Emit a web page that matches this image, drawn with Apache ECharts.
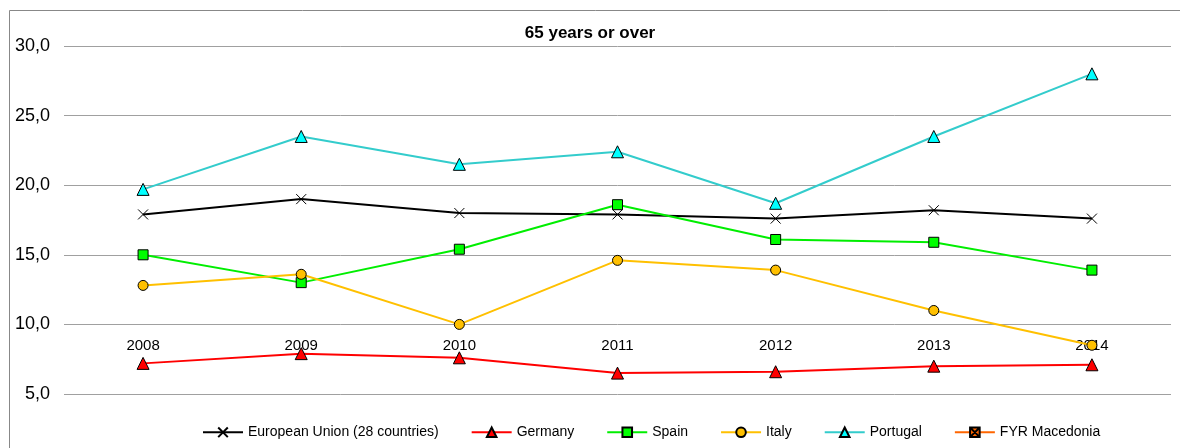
<!DOCTYPE html>
<html><head><meta charset="utf-8">
<script src="https://cdn.jsdelivr.net/npm/echarts@6/dist/echarts.min.js"></script>
<style>html,body{margin:0;padding:0;background:#fff}#c{width:1180px;height:448px}</style>
</head><body><div id="c"></div>
<script>
const title = '65 years or over';
const years = ['2008','2009','2010','2011','2012','2013','2014'];
const seriesNames = ['European Union (28 countries)','Germany','Spain','Italy','Portugal','FYR Macedonia'];
const euValues = [17.9, 19.0, 18.0, 17.9, 17.6, 18.2, 17.6];
const germanyValues = [7.2, 7.9, 7.6, 6.5, 6.6, 7.0, 7.1];
const spainValues = [15.0, 13.0, 15.4, 18.6, 16.1, 15.9, 13.9];
const italyValues = [12.8, 13.6, 10.0, 14.6, 13.9, 11.0, 8.5];
const portugalValues = [19.7, 23.5, 21.5, 22.4, 18.7, 23.5, 28.0];
const macedoniaValues = [null, null, null, null, null, null, null];

const font = 'Liberation Sans';
const xPath = 'path://M0,0L10,10M10,0L0,10';
const xSqPath = 'path://M0,0L10,0L10,10L0,10Z M0,0L10,10M10,0L0,10';

function mk(name, data, lineColor, fill, symbol, size, border) {
  return {
    name, type: 'line', data,
    symbol, symbolSize: size,
    lineStyle: {color: lineColor, width: 2},
    itemStyle: {color: fill, borderColor: border || '#000', borderWidth: 1},
    emphasis: {disabled: true},
    animation: false, z: 3
  };
}

const chart = echarts.init(document.getElementById('c'));
chart.setOption({
  animation: false,
  backgroundColor: '#fff',
  textStyle: {fontFamily: font},
  title: {text: title, left: 'center', top: 20, textStyle: {fontFamily: font, fontSize: 17, fontWeight: 'bold', color: '#000'}},
  graphic: [{type: 'rect', shape: {x: 9.5, y: 10.5, width: 1200, height: 500}, style: {fill: 'none', stroke: '#888', lineWidth: 1}, silent: true, z: -1}],
  grid: {left: 64, right: 9, top: 46, bottom: 54},
  legend: {
    left: 197, top: 420, itemWidth: 40, itemHeight: 12, itemGap: 32,
    textStyle: {fontFamily: font, fontSize: 14, color: '#000'},
    data: seriesNames
  },
  xAxis: {
    type: 'category', data: years, boundaryGap: true, offset: -63,
    axisLine: {show: false}, axisTick: {show: false},
    axisLabel: {fontFamily: font, fontSize: 15, color: '#000', margin: 7}
  },
  yAxis: {
    type: 'value', min: 5, max: 30, interval: 5,
    axisLine: {show: false}, axisTick: {show: false},
    axisLabel: {fontFamily: font, fontSize: 18, color: '#000', margin: 14, formatter: v => v.toFixed(1).replace('.', ',')},
    splitLine: {lineStyle: {color: '#a0a0a0', width: 1}}
  },
  series: [
    mk(seriesNames[0], euValues, '#000', 'none', xPath, 10),
    mk(seriesNames[1], germanyValues, '#ff0000', '#ff0000', 'triangle', 12),
    mk(seriesNames[2], spainValues, '#00ee00', '#00ff00', 'rect', 10),
    mk(seriesNames[3], italyValues, '#ffc000', '#ffc000', 'circle', 10),
    mk(seriesNames[4], portugalValues, '#33cccc', '#00ffff', 'triangle', 12),
    mk(seriesNames[5], macedoniaValues, '#ff6600', '#ff6600', xSqPath, 11)
  ]
});
</script></body></html>
